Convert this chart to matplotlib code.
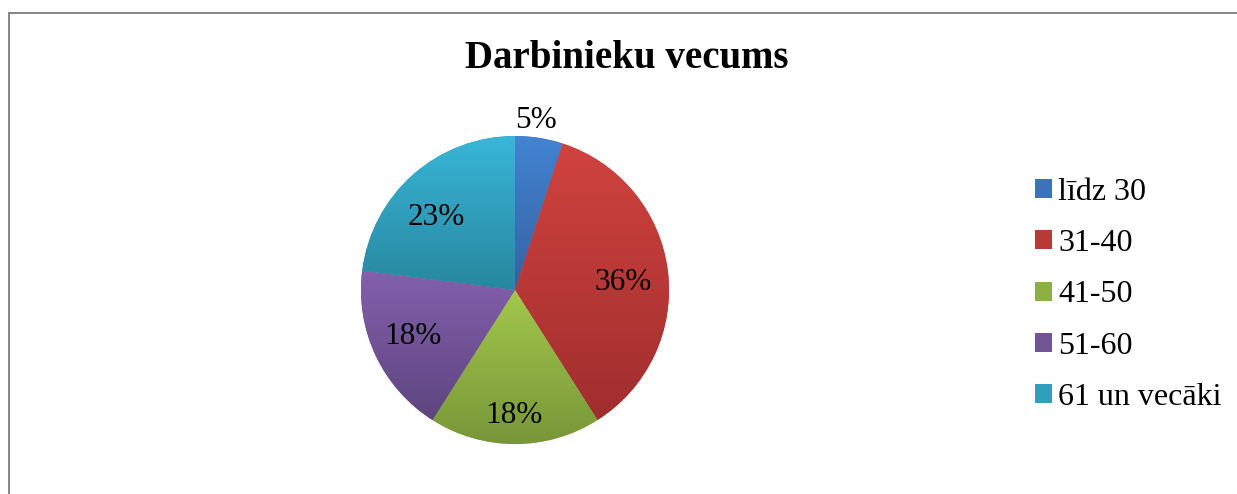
import numpy as np
import matplotlib
matplotlib.use("Agg")
import matplotlib.pyplot as plt
from matplotlib.patches import Patch
from matplotlib.colors import LinearSegmentedColormap
from matplotlib.lines import Line2D

title = "Darbinieku vecums"
categories = ["līdz 30", "31-40", "41-50", "51-60", "61 un vecāki"]
values = [5, 36, 18, 18, 23]
pct_labels = ["5%", "36%", "18%", "18%", "23%"]

top_colors = ["#4383D2", "#D0433F", "#A2C84C", "#8460AC", "#38B6D8"]
bot_colors = ["#3462A2", "#A02E2E", "#789638", "#5E4580", "#28879F"]
mid_colors = ["#3B72BA", "#B83A37", "#8DB042", "#725396", "#309FBC"]
# label placement (fraction of radius, angle offset in degrees from wedge middle)
label_dist = [1.106, 0.703, 0.818, 0.731, 0.696]
label_dang = [1.9, -3.0, -0.5, -0.8, 6.1]

plt.rcParams['font.family'] = ['Liberation Serif', 'DejaVu Serif']

W, H = 1237, 494
fig = plt.figure(figsize=(W / 100, H / 100), dpi=100)
ax = fig.add_axes([0, 0, 1, 1])

cx, cy, R = 515, H - 290, 154
wedges, _ = ax.pie(values, startangle=90, counterclock=False, radius=R,
                   center=(cx, cy), colors=mid_colors, frame=True,
                   wedgeprops=dict(linewidth=0))
ax.set_xlim(0, W)
ax.set_ylim(0, H)
ax.set_aspect('auto')
ax.axis('off')

for w, c1, c2 in zip(wedges, top_colors, bot_colors):
    cmap = LinearSegmentedColormap.from_list("g", [c2, c1])
    grad = np.linspace(0, 1, 256).reshape(-1, 1)
    bb = w.get_path().get_extents(w.get_transform())
    inv = ax.transData.inverted()
    (x0, y0), (x1, y1) = inv.transform([(bb.x0, bb.y0), (bb.x1, bb.y1)])
    im = ax.imshow(grad, cmap=cmap, extent=(x0, x1, y0, y1), origin='lower',
                   aspect='auto', zorder=2, interpolation='bilinear')
    im.set_clip_path(w)
ax.set_xlim(0, W)
ax.set_ylim(0, H)

for w, lab, d, da in zip(wedges, pct_labels, label_dist, label_dang):
    ang = np.deg2rad((w.theta1 + w.theta2) / 2 + da)
    x = cx + d * R * np.cos(ang)
    y = cy + d * R * np.sin(ang)
    ax.text(x, y, lab, ha='center', va='center', fontsize=22.5, color='black', zorder=5)

fig.text(627 / W, 1 - 59 / H, title, ha='center', va='center', fontsize=28,
         fontweight='bold')

handles = [Patch(facecolor=c, edgecolor='none') for c in mid_colors]
leg = fig.legend(handles, categories, loc='upper left',
                 bbox_to_anchor=(1035 / W, 1 - 178 / H), frameon=False,
                 fontsize=23, handlelength=0.53, handleheight=0.53,
                 handletextpad=0.19, labelspacing=0.695, borderaxespad=0,
                 borderpad=0)

fig.add_artist(Line2D([8.5 / W, 1.0], [1 - 13 / H, 1 - 13 / H], color='#868686', lw=1.4,
                      transform=fig.transFigure))
fig.add_artist(Line2D([8.5 / W, 8.5 / W], [1 - 13 / H, 0], color='#868686', lw=1.4,
                      transform=fig.transFigure))

fig.savefig("out.png", dpi=100)
